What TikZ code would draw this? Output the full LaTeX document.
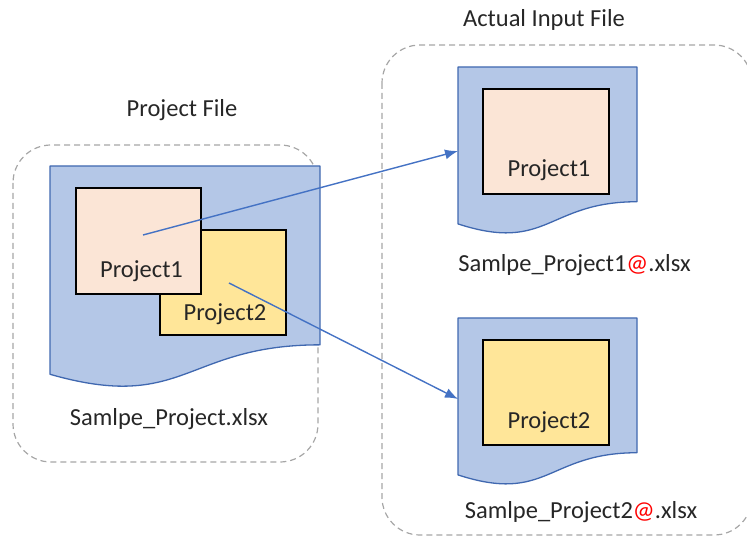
\documentclass[tikz,border=0pt]{standalone}
\usepackage{fontspec}
\setmainfont{Carlito}
\usetikzlibrary{arrows.meta}
\definecolor{docblue}{HTML}{B4C7E7}
\definecolor{docedge}{HTML}{4068B0}
\definecolor{peach}{HTML}{FBE5D6}
\definecolor{goldy}{HTML}{FFE699}
\definecolor{arrowblue}{HTML}{4472C4}
\definecolor{grpgray}{HTML}{A6A6A6}
\definecolor{txt}{HTML}{262626}
\newcommand{\docpath}[4]{% x, y, w, h
  \fill[docblue] (#1,#2) -- ++(#3,0) -- ++(0,0.802*#4)
    .. controls +(-0.5*#3,0) and +(0.5*#3,0.1735*#4) .. (#1,#2+0.934*#4) -- cycle;
  \draw[docedge, line width=1.3pt, line join=round] (#1,#2) -- ++(#3,0) -- ++(0,0.802*#4)
    .. controls +(-0.5*#3,0) and +(0.5*#3,0.1735*#4) .. (#1,#2+0.934*#4) -- cycle;
}
\begin{document}
\begin{tikzpicture}[x=1pt,y=-1pt,
  grp/.style={draw=grpgray, line width=1.2pt, dash pattern=on 6pt off 4pt, rounded corners=38pt},
  inbox/.style={draw=black, line width=1.6pt, anchor=north west, inner sep=0pt},
  lbl/.style={font=\fontsize{24.5}{29}\selectfont, text=txt, anchor=base, inner sep=0pt},
  conn/.style={draw=arrowblue, line width=1.4pt, -{Latex[length=13pt,width=10pt]}}
]
\useasboundingbox (0,0) rectangle (747,537);
\begin{scope}
\clip (0,0) rectangle (747,537);
% group boxes
\draw[grp] (13,145) rectangle (318,462);
\draw[grp] (382,45) rectangle (752,535);
% documents
\docpath{50}{166}{270}{223}
\docpath{458}{67}{179}{168}
\docpath{458}{318}{179}{168}
\node[inbox, fill=goldy, minimum width=126pt, minimum height=105pt] (p2) at (159,229) {};
\node[inbox, fill=peach, minimum width=125pt, minimum height=106pt] (p1) at (75,187) {};
\node[inbox, fill=peach, minimum width=126pt, minimum height=105pt] (r1) at (482,88) {};
\node[inbox, fill=goldy, minimum width=126pt, minimum height=105pt] (r2) at (482,339) {};
% texts
\node[lbl] (p1t) at (141.5,278) {Project1};
\node[lbl] (p2t) at (225,320) {Project2};
\node[lbl] (r1t) at (549,177) {Project1};
\node[lbl] (r2t) at (549,428) {Project2};
\node[lbl] (f0) at (169,425) {Samlpe\_Project.xlsx};
\node[lbl] (f1) at (574.5,272) {Samlpe\_Project1{\color{red}@}.xlsx};
\node[lbl] (f2) at (581,518) {Samlpe\_Project2{\color{red}@}.xlsx};
\node[lbl] (t0) at (182,117) {Project File};
\node[lbl] (t1) at (544,27) {Actual Input File};
% connectors
\coordinate (a1s) at (143,235);
\coordinate (a1e) at (458,151);
\coordinate (a2s) at (229,283);
\coordinate (a2e) at (458,399);
\draw[conn] (a1s) -- (a1e);
\draw[conn] (a2s) -- (a2e);
\end{scope}
\end{tikzpicture}
\end{document}
